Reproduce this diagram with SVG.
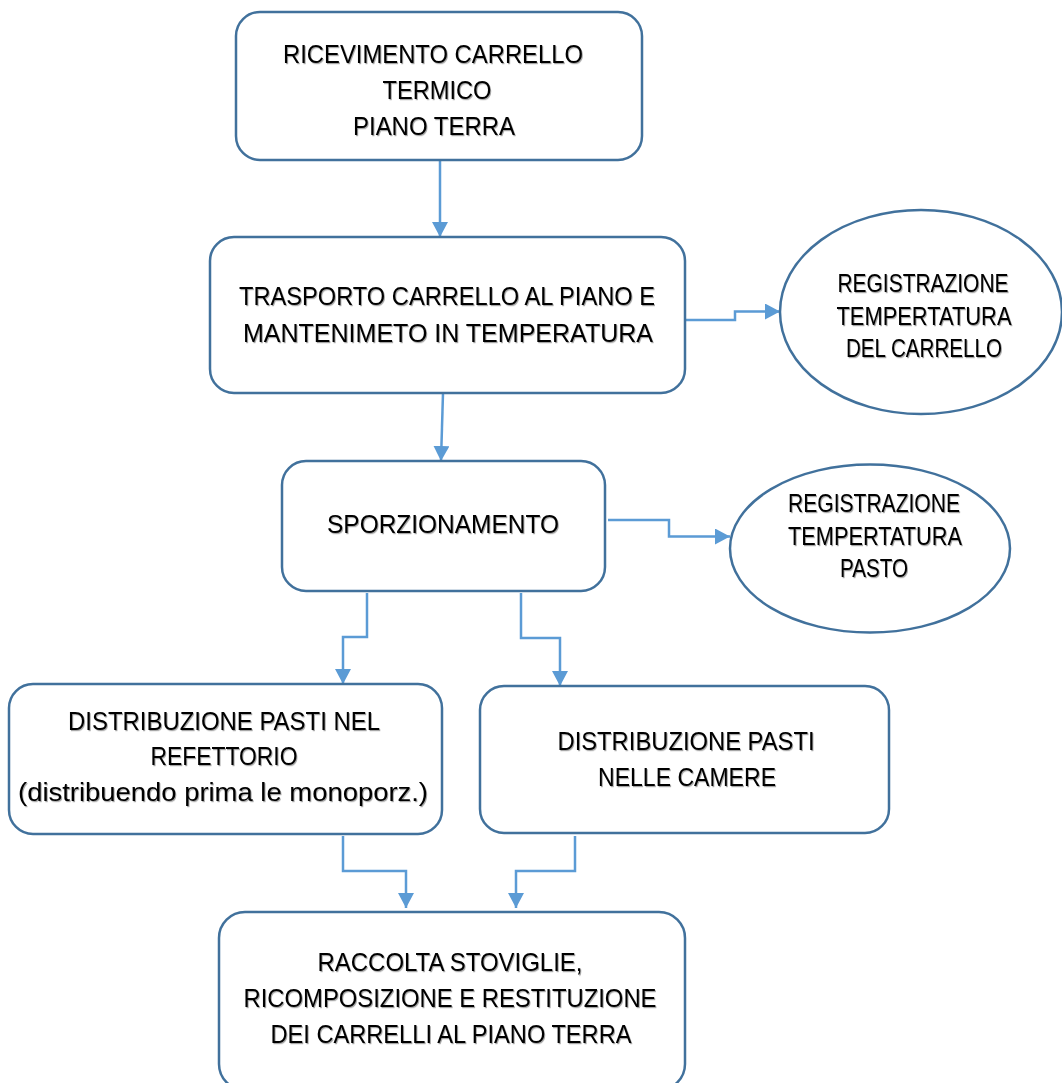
<svg xmlns="http://www.w3.org/2000/svg" width="1062" height="1083" viewBox="0 0 1062 1083">
<style>
.box{fill:#ffffff;stroke:#41719C;stroke-width:2.5}
.conn{fill:none;stroke:#5B9BD5;stroke-width:2.5}
text{font-family:"Liberation Sans",Arial,sans-serif;font-size:26.5px;fill:#000;text-anchor:middle;filter:url(#sh)}
</style>
<defs>
<filter id="sh" x="-5%" y="-30%" width="110%" height="160%">
<feDropShadow dx="1" dy="1.2" stdDeviation="0.7" flood-color="#000" flood-opacity="0.35"/>
</filter>
<marker id="ah" markerUnits="userSpaceOnUse" markerWidth="18" markerHeight="18" refX="15" refY="8" orient="auto">
<path d="M0,0 L15,8 L0,16 Z" fill="#5B9BD5"/>
</marker>
</defs>
<rect width="1062" height="1083" fill="#ffffff"/>
<g id="connectors">
<path class="conn" marker-end="url(#ah)" d="M440,160 V237"/>
<path class="conn" marker-end="url(#ah)" d="M685,320 H735 V311.5 H780"/>
<path class="conn" marker-end="url(#ah)" d="M443,393 L441,461"/>
<path class="conn" marker-end="url(#ah)" d="M608,520 H669 V536.5 H730"/>
<path class="conn" marker-end="url(#ah)" d="M367,593 V637 H343 V684"/>
<path class="conn" marker-end="url(#ah)" d="M521,593 V638 H560 V686"/>
<path class="conn" marker-end="url(#ah)" d="M343,836 V871 H406 V908"/>
<path class="conn" marker-end="url(#ah)" d="M575,836 V871 H516 V908"/>
</g>
<g id="n1">
<rect class="box" x="236" y="12" width="406" height="148" rx="24"/>
<text x="433" y="63" textLength="300" lengthAdjust="spacingAndGlyphs">RICEVIMENTO CARRELLO</text>
<text x="437" y="99" textLength="109" lengthAdjust="spacingAndGlyphs">TERMICO</text>
<text x="434" y="135" textLength="162" lengthAdjust="spacingAndGlyphs">PIANO TERRA</text>
</g>
<g id="n2">
<rect class="box" x="210" y="237" width="475" height="156" rx="24"/>
<text x="447" y="305" textLength="416" lengthAdjust="spacingAndGlyphs">TRASPORTO CARRELLO AL PIANO E</text>
<text x="448" y="342" textLength="410" lengthAdjust="spacingAndGlyphs">MANTENIMETO IN TEMPERATURA</text>
</g>
<g id="n3">
<ellipse class="box" cx="921" cy="312" rx="141" ry="102"/>
<text x="923" y="292" textLength="171" lengthAdjust="spacingAndGlyphs">REGISTRAZIONE</text>
<text x="924" y="325" textLength="175" lengthAdjust="spacingAndGlyphs">TEMPERTATURA</text>
<text x="924" y="357" textLength="156" lengthAdjust="spacingAndGlyphs">DEL CARRELLO</text>
</g>
<g id="n4">
<rect class="box" x="282" y="461" width="323" height="130" rx="24"/>
<text x="443" y="533" textLength="232" lengthAdjust="spacingAndGlyphs">SPORZIONAMENTO</text>
</g>
<g id="n5">
<ellipse class="box" cx="870" cy="548.5" rx="140" ry="84"/>
<text x="874" y="512" textLength="172" lengthAdjust="spacingAndGlyphs">REGISTRAZIONE</text>
<text x="875" y="545" textLength="174" lengthAdjust="spacingAndGlyphs">TEMPERTATURA</text>
<text x="874" y="577" textLength="68" lengthAdjust="spacingAndGlyphs">PASTO</text>
</g>
<g id="n6">
<rect class="box" x="9" y="684" width="433" height="150" rx="24"/>
<text x="224" y="730" textLength="312" lengthAdjust="spacingAndGlyphs">DISTRIBUZIONE PASTI NEL</text>
<text x="224" y="765" textLength="147" lengthAdjust="spacingAndGlyphs">REFETTORIO</text>
<text x="223" y="801" textLength="410" lengthAdjust="spacingAndGlyphs">(distribuendo prima le monoporz.)</text>
</g>
<g id="n7">
<rect class="box" x="480" y="686" width="409" height="147" rx="24"/>
<text x="686" y="750" textLength="257" lengthAdjust="spacingAndGlyphs">DISTRIBUZIONE PASTI</text>
<text x="687" y="786" textLength="178" lengthAdjust="spacingAndGlyphs">NELLE CAMERE</text>
</g>
<g id="n8">
<rect class="box" x="219" y="912" width="466" height="178" rx="26"/>
<text x="450" y="971" textLength="265" lengthAdjust="spacingAndGlyphs">RACCOLTA STOVIGLIE,</text>
<text x="450" y="1007" textLength="413" lengthAdjust="spacingAndGlyphs">RICOMPOSIZIONE E RESTITUZIONE</text>
<text x="451" y="1043" textLength="361" lengthAdjust="spacingAndGlyphs">DEI CARRELLI AL PIANO TERRA</text>
</g>
</svg>
